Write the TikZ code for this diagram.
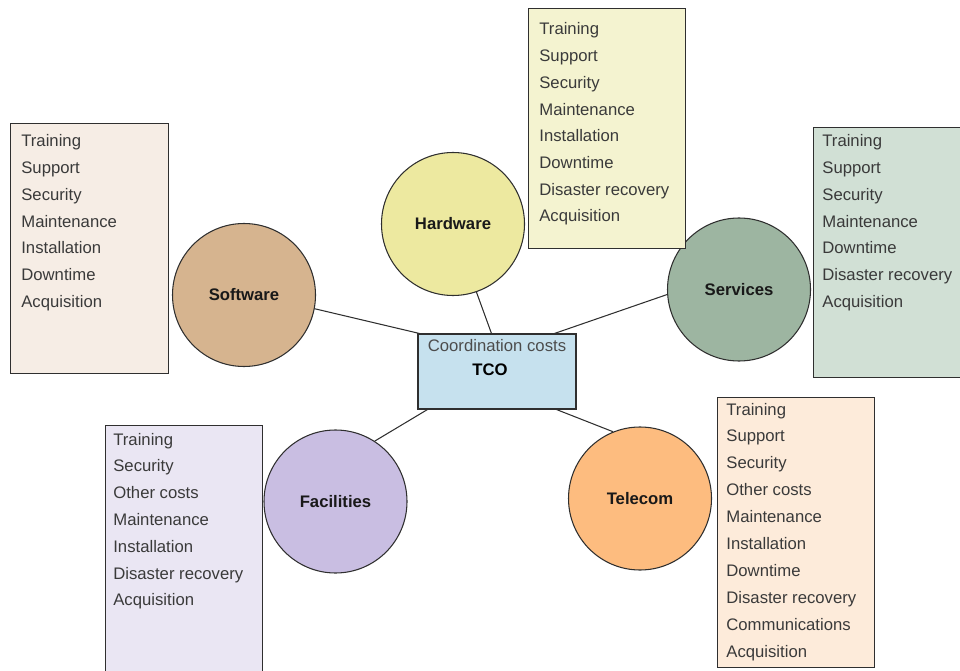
\documentclass[tikz,border=0pt]{standalone}
\usepackage{fontspec}
\setmainfont{Liberation Sans}

\definecolor{edge}{HTML}{2F2F2F}
\definecolor{itemgray}{HTML}{3A3A3A}
\definecolor{tcofill}{HTML}{C6E1EE}
\definecolor{swfill}{HTML}{D6B48F}
\definecolor{swlist}{HTML}{F6EDE5}
\definecolor{hwfill}{HTML}{EDE9A0}
\definecolor{hwlist}{HTML}{F4F3D0}
\definecolor{svfill}{HTML}{9DB5A1}
\definecolor{svlist}{HTML}{D1E0D5}
\definecolor{fafill}{HTML}{C9BEE2}
\definecolor{falist}{HTML}{EAE6F3}
\definecolor{tefill}{HTML}{FDBC7F}
\definecolor{telist}{HTML}{FDEBDA}

\begin{document}
\begin{tikzpicture}[
  x=0.2mm, y=-0.2mm,
  hub/.style={draw=edge, line width=0.6pt, circle, minimum size=28.6mm, inner sep=0pt,
    font=\bfseries\fontsize{9.5}{11}\selectfont, text=black!90},
  listbox/.style={draw=edge, line width=0.6pt, anchor=north west, inner sep=0pt},
  item/.style={anchor=base west, inner sep=0pt, text=itemgray,
    font=\fontsize{9.5}{11}\selectfont},
  link/.style={draw=edge, line width=0.6pt}
]
\clip (0,0) rectangle (960,671);

% centre box
\node[draw=edge, line width=0.6pt, fill=tcofill, minimum width=31.6mm,
  minimum height=15mm, inner sep=0pt] (tco) at (497,371.5) {};
\node[anchor=base, inner sep=0pt, text=black!70,
  font=\fontsize{9.5}{11}\selectfont] (tcotitle) at (497,351) {Coordination costs};
\node[anchor=base, inner sep=0pt,
  font=\bfseries\fontsize{9.5}{11}\selectfont] (tconame) at (490,375) {TCO};

% cost areas
\node[hub, fill=swfill] (sw) at (244,295)   {Software};
\node[hub, fill=hwfill] (hw) at (453,224)   {Hardware};
\node[hub, fill=svfill] (sv) at (739,289.5) {Services};
\node[hub, fill=fafill] (fa) at (335.5,501.5) {Facilities};
\node[hub, fill=tefill] (te) at (640,498.5) {Telecom};

\draw[link] (sw.-11)  -- ([shift={(2,0)}]tco.north west);
\draw[link] (hw.-71)  -- ([shift={(74,0)}]tco.north west);
\draw[link] (sv.184)  -- ([shift={(137,0)}]tco.north west);
\draw[link] (fa.57)   -- ([shift={(10,0)}]tco.south west);
\draw[link] (te.112)  -- ([shift={(139,0)}]tco.south west);

% cost lists
\node[listbox, fill=swlist, minimum width=31.6mm, minimum height=50mm] (swbox) at (10,123) {};
\foreach \t [count=\i] in {Training, Support, Security, Maintenance, Installation,
    Downtime, Acquisition}
  \node[item] (sw\i) at (21,{146.7+26.8*(\i-1)}) {\t};

\node[listbox, fill=hwlist, minimum width=31.4mm, minimum height=48mm] (hwbox) at (528,8) {};
\foreach \t [count=\i] in {Training, Support, Security, Maintenance, Installation,
    Downtime, Disaster recovery, Acquisition}
  \node[item] (hw\i) at (539,{35+26.7*(\i-1)}) {\t};

\node[listbox, fill=svlist, minimum width=32mm, minimum height=50mm] (svbox) at (813,127) {};
\foreach \t [count=\i] in {Training, Support, Security, Maintenance, Downtime,
    Disaster recovery, Acquisition}
  \node[item] (sv\i) at (822,{146.7+26.8*(\i-1)}) {\t};

\node[listbox, fill=falist, minimum width=31.4mm, minimum height=52mm] (fabox) at (105,425) {};
\foreach \t [count=\i] in {Training, Security, Other costs, Maintenance, Installation,
    Disaster recovery, Acquisition}
  \node[item] (fa\i) at (113,{445+26.8*(\i-1)}) {\t};

\node[listbox, fill=telist, minimum width=31.4mm, minimum height=54mm] (tebox) at (717,397) {};
\foreach \t [count=\i] in {Training, Support, Security, Other costs, Maintenance,
    Installation, Downtime, Disaster recovery, Communications, Acquisition}
  \node[item] (te\i) at (726,{415+26.9*(\i-1)}) {\t};
\end{tikzpicture}
\end{document}
